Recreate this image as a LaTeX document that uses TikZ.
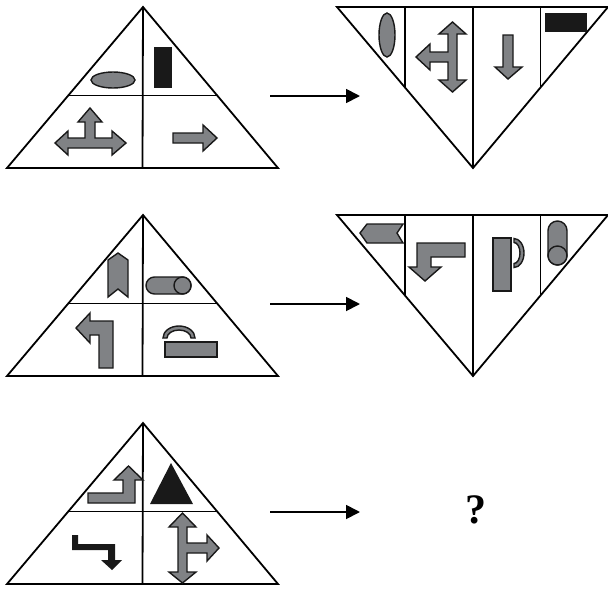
\documentclass[tikz,border=0pt]{standalone}
\usepackage{fontspec}
\newfontfamily\qfont{Liberation Serif}
\usetikzlibrary{arrows.meta,calc}
\definecolor{shapegray}{RGB}{128,130,133}
\begin{document}
\begin{tikzpicture}[x=1pt,y=-1pt,
  frame/.style={line width=1.8pt, line join=miter},
  shp/.style={draw=black!90, line width=1.4pt, fill=shapegray, line join=miter},
  blk/.style={fill=black!90},
  conn/.style={line width=1.8pt, -{Triangle[length=14pt,width=14pt]}}]
\useasboundingbox (0,0) rectangle (608,590);
% upright triangles
\foreach \ay/\n in {7/1,215/2,423/3}{
  \coordinate (ta\n) at (143,\ay);
  \coordinate (tl\n) at (7,\ay+161);
  \coordinate (tr\n) at (278,\ay+161);
  \draw[frame] (ta\n) -- (tl\n) -- (tr\n) -- cycle;
  \draw[frame] ($(ta\n)!0.55!(tl\n)$) -- ($(ta\n)!0.55!(tr\n)$);
  \draw[frame] (ta\n) -- ($(tl\n)!0.5!(tr\n)$);
}
% inverted triangles
\foreach \ty/\n in {7/1,215/2}{
  \coordinate (ia\n) at (473,\ty+161);
  \coordinate (il\n) at (337,\ty);
  \coordinate (ir\n) at (608,\ty);
  \draw[frame] (il\n) -- (ir\n) -- (ia\n) -- cycle;
  \draw[frame] (405,\ty) -- ($(il\n)!0.5!(ia\n)$);
  \draw[frame] (473,\ty) -- (ia\n);
  \draw[frame] (540.5,\ty) -- ($(ir\n)!0.5!(ia\n)$);
}
% connectors
\coordinate (as1) at (270,96);  \coordinate (ae1) at (360,96);
\coordinate (as2) at (270,304); \coordinate (ae2) at (360,304);
\coordinate (as3) at (270,512); \coordinate (ae3) at (360,512);
\draw[conn] (as1) -- (ae1);
\draw[conn] (as2) -- (ae2);
\draw[conn] (as3) -- (ae3);
\node (q) at (476,510) {\qfont\bfseries\fontsize{42}{42}\selectfont ?};

% ---- triangle 1 ----
\draw[shp] (113,80) ellipse [x radius=22, y radius=8];
\fill[blk] (154,47) rectangle (172,88);
\draw[shp] (90,108) -- (102,122) -- (95,122) -- (95,138) -- (112,138) -- (112,131) -- (126,143) -- (112,155) -- (112,148) -- (68,148) -- (68,155) -- (55,143) -- (68,131) -- (68,138) -- (85,138) -- (85,122) -- (78,122) -- cycle;
\draw[shp] (173,133) -- (203,133) -- (203,125) -- (217,138) -- (203,151) -- (203,143) -- (173,143) -- cycle;

% ---- inverted triangle 1 ----
\draw[shp] (387,35) ellipse [x radius=8, y radius=22];
\draw[shp] (452.5,22) -- (466,34) -- (457,34) -- (457,80) -- (466,80) -- (452.5,92) -- (439,80) -- (448,80) -- (448,62) -- (430,62) -- (430,70) -- (416,57) -- (430,44) -- (430,52) -- (448,52) -- (448,34) -- (439,34) -- cycle;
\draw[shp] (503,35) -- (513,35) -- (513,67) -- (522,67) -- (508,79) -- (495,67) -- (503,67) -- cycle;
\fill[blk] (545,13) rectangle (587,32);

% ---- triangle 2 ----
\draw[shp] (108,260) -- (118,253) -- (128,260) -- (128,297) -- (118,289) -- (108,297) -- cycle;
\draw[shp, rounded corners=8.5pt] (146,277) rectangle (191,294);
\draw[shp] (182.5,285.5) circle [radius=8.5];
\draw[shp] (113,321) -- (113,368) -- (99,368) -- (99,335) -- (90,335) -- (90,343) -- (76,328) -- (90,313) -- (90,321) -- cycle;
\draw[shp] (163,338) arc [start angle=180, end angle=360, x radius=16, y radius=12] -- (191,338) arc [start angle=0, end angle=-180, x radius=12, y radius=8] -- cycle;
\draw[shp] (165,342) rectangle (217,357);

% ---- inverted triangle 2 ----
\draw[shp] (360,233) -- (367,224) -- (403,224) -- (397,233) -- (403,243) -- (367,243) -- cycle;
\draw[shp] (465,243) -- (465,257) -- (431,257) -- (431,267) -- (441,267) -- (425,281) -- (409,267) -- (417,267) -- (417,243) -- cycle;
\draw[shp] (493,238) rectangle (511,291);
\draw[shp] (514,238.5) arc [start angle=-90, end angle=90, x radius=10, y radius=14.5] -- (514,263.5) arc [start angle=90, end angle=-90, x radius=6, y radius=10.5] -- cycle;
\draw[shp, rounded corners=9.5pt] (548,221) rectangle (567,265);
\draw[shp] (557.5,255.5) circle [radius=9.5];

% ---- triangle 3 ----
\draw[shp] (88,493) -- (123,493) -- (123,480) -- (114,480) -- (128.5,466) -- (143,480) -- (135,480) -- (135,503) -- (88,503) -- cycle;
\fill[blk] (171,463) -- (193,504) -- (150,504) -- cycle;
\fill[blk] (72,535) -- (78,535) -- (78,544) -- (115,544) -- (115,560) -- (122,560) -- (112,570) -- (101,560) -- (108,560) -- (108,550) -- (72,550) -- cycle;
\draw[shp] (182.5,513) -- (196,527) -- (187,527) -- (187,543) -- (207,543) -- (207,535) -- (219,548) -- (207,561) -- (207,553) -- (187,553) -- (187,572) -- (196,572) -- (182.5,583) -- (169,572) -- (178,572) -- (178,527) -- (169,527) -- cycle;
\end{tikzpicture}
\end{document}
